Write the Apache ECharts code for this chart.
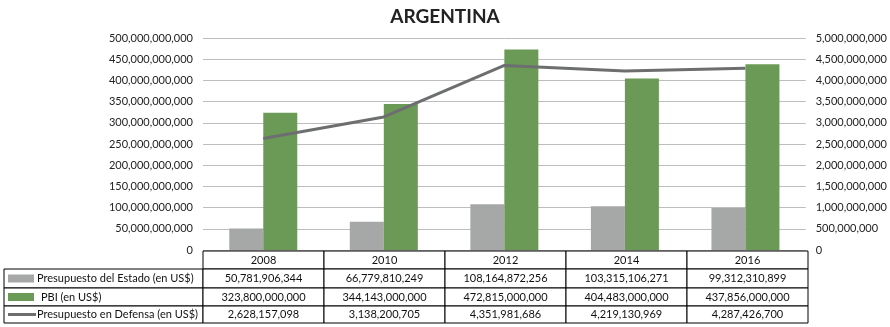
<!DOCTYPE html>
<html>
<head>
<meta charset="utf-8">
<script src="https://cdn.jsdelivr.net/npm/echarts@6/dist/echarts.min.js"></script>
<style>
  html, body { margin: 0; padding: 0; background: #fff; }
  #chart { width: 890px; height: 327px; }
</style>
</head>
<body>
<div id="chart"></div>
<script>
const years = ["2008", "2010", "2012", "2014", "2016"];
const presupuestoEstado = [50781906344, 66779810249, 108164872256, 103315106271, 99312310899];
const pbi = [323800000000, 344143000000, 472815000000, 404483000000, 437856000000];
const presupuestoDefensa = [2628157098, 3138200705, 4351981686, 4219130969, 4287426700];
const seriesNames = [
  "Presupuesto del Estado (en US$)",
  "PBI (en US$)",
  "Presupuesto en Defensa (en US$)"
];

const FONT = "Lato";
const GRID = { left: 203, right: 82, top: 38, bottom: 77 };
const W = 890;
const fmt = (v) => v.toLocaleString("en-US");

const chart = echarts.init(document.getElementById("chart"));

// tabla de datos debajo del gráfico
function buildTable() {
  const els = [];
  const plotW = W - GRID.left - GRID.right;
  const colW = plotW / years.length;
  const rowTops = [251, 269, 288, 306, 323];
  const labelLeft = 4;
  const cellStyle = { fill: "#fff", stroke: "#000", lineWidth: 1 };

  // encabezado con años
  years.forEach((y, i) => {
    const x = GRID.left + i * colW;
    els.push({ type: "rect", shape: { x: x, y: rowTops[0], width: colW, height: rowTops[1] - rowTops[0] }, style: cellStyle, z: 10 });
    els.push({ type: "text", x: x + colW / 2, y: (rowTops[0] + rowTops[1]) / 2, style: { text: y, font: "11px " + FONT, fill: "#111", align: "center", verticalAlign: "middle" }, z: 11 });
  });

  const rows = [presupuestoEstado, pbi, presupuestoDefensa];
  rows.forEach((vals, r) => {
    const top = rowTops[r + 1];
    const h = rowTops[r + 2] - top;
    const mid = top + h / 2;
    els.push({ type: "rect", shape: { x: labelLeft, y: top, width: GRID.left - labelLeft, height: h }, style: cellStyle, z: 10 });
    // muestra de leyenda
    if (r < 2) {
      els.push({ type: "rect", shape: { x: 8, y: mid - 4, width: 26, height: 8 }, style: { fill: r === 0 ? "#a6a8a7" : "#6b9a56" }, z: 11 });
    } else {
      els.push({ type: "line", shape: { x1: 8, y1: mid, x2: 36, y2: mid }, style: { stroke: "#6d6e70", lineWidth: 3 }, z: 11 });
    }
    els.push({ type: "text", x: r === 1 ? 41 : 37, y: mid, style: { text: seriesNames[r], font: "11px " + FONT, fill: "#111", align: "left", verticalAlign: "middle" }, z: 11 });
    vals.forEach((v, i) => {
      const x = GRID.left + i * colW;
      els.push({ type: "rect", shape: { x: x, y: top, width: colW, height: h }, style: cellStyle, z: 10 });
      els.push({ type: "text", x: x + colW / 2, y: mid, style: { text: fmt(v), font: "11px " + FONT, fill: "#111", align: "center", verticalAlign: "middle" }, z: 11 });
    });
  });
  return els;
}

const option = {
  animation: false,
  title: {
    text: "ARGENTINA",
    left: "center",
    top: 2,
    textStyle: { fontFamily: FONT, fontWeight: "bold", fontSize: 19, color: "#222" }
  },
  grid: GRID,
  xAxis: {
    type: "category",
    data: years,
    axisLine: { show: false },
    axisTick: { show: false },
    axisLabel: { show: false }
  },
  yAxis: [
    {
      type: "value",
      min: 0,
      max: 500000000000,
      interval: 50000000000,
      axisLine: { show: false },
      axisTick: { show: false },
      axisLabel: { formatter: fmt, fontFamily: FONT, fontSize: 11, color: "#222", margin: 10 },
      splitLine: { lineStyle: { color: "#bdbdbd", width: 1 } }
    },
    {
      type: "value",
      min: 0,
      max: 5000000000,
      interval: 500000000,
      axisLine: { show: false },
      axisTick: { show: false },
      axisLabel: { formatter: fmt, fontFamily: FONT, fontSize: 11, color: "#222", margin: 10 },
      splitLine: { show: false }
    }
  ],
  series: [
    {
      name: seriesNames[0],
      type: "bar",
      data: presupuestoEstado,
      barWidth: 34,
      barGap: "0%",
      itemStyle: { color: "#a6a8a7" }
    },
    {
      name: seriesNames[1],
      type: "bar",
      data: pbi,
      barWidth: 34,
      itemStyle: { color: "#6b9a56" }
    },
    {
      name: seriesNames[2],
      type: "line",
      yAxisIndex: 1,
      data: presupuestoDefensa,
      symbol: "none",
      lineStyle: { color: "#6d6e70", width: 3 },
      z: 5
    }
  ],
  graphic: buildTable()
};

chart.setOption(option);
</script>
</body>
</html>
